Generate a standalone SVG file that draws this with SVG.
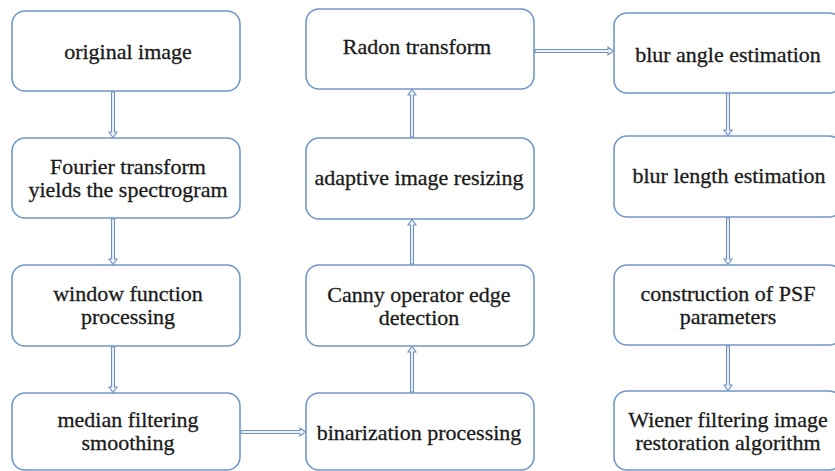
<svg xmlns="http://www.w3.org/2000/svg" width="835" height="471" viewBox="0 0 835 471">
<style>
.box{fill:#fff;stroke:#7397c6;stroke-width:1.6}
.t{font-family:"Liberation Serif","Times New Roman",serif;font-size:22px;fill:#1a1a1a;stroke:#1a1a1a;stroke-width:0.3;text-anchor:middle}
.arr{fill:#eef2f9;stroke:#6f92c2;stroke-width:1.1;stroke-linejoin:miter}
</style>
<rect width="835" height="471" fill="#fff"/>
<g id="n1"><rect class="box" x="12" y="11" width="228" height="80" rx="13"/><text class="t" x="128" y="59">original image</text></g>
<g id="n2"><rect class="box" x="12" y="138" width="228" height="80" rx="13"/><text class="t" x="128" y="174">Fourier transform</text><text class="t" x="128" y="197">yields the spectrogram</text></g>
<g id="n3"><rect class="box" x="12" y="265" width="228" height="81" rx="13"/><text class="t" x="128" y="301">window function</text><text class="t" x="128" y="324">processing</text></g>
<g id="n4"><rect class="box" x="12" y="393" width="228" height="77" rx="13"/><text class="t" x="128" y="427">median filtering</text><text class="t" x="128" y="450">smoothing</text></g>
<g id="n5"><rect class="box" x="306" y="393" width="228" height="77" rx="13"/><text class="t" x="419" y="440">binarization processing</text></g>
<g id="n6"><rect class="box" x="306" y="265" width="228" height="81" rx="13"/><text class="t" x="419" y="302">Canny operator edge</text><text class="t" x="419" y="325">detection</text></g>
<g id="n7"><rect class="box" x="306" y="138" width="228" height="81" rx="13"/><text class="t" x="419" y="185">adaptive image resizing</text></g>
<g id="n8"><rect class="box" x="306" y="9" width="228" height="80" rx="13"/><text class="t" x="417" y="54">Radon transform</text></g>
<g id="n9"><rect class="box" x="614" y="13" width="228" height="80" rx="13"/><text class="t" x="728" y="62">blur angle estimation</text></g>
<g id="n10"><rect class="box" x="614" y="136" width="228" height="81" rx="13"/><text class="t" x="729" y="183">blur length estimation</text></g>
<g id="n11"><rect class="box" x="614" y="265" width="228" height="80" rx="13"/><text class="t" x="728" y="301">construction of PSF</text><text class="t" x="728" y="324">parameters</text></g>
<g id="n12"><rect class="box" x="614" y="391" width="228" height="79" rx="13"/><text class="t" x="728" y="427">Wiener filtering image</text><text class="t" x="728" y="450">restoration algorithm</text></g>
<g id="connectors">
<path class="arr" d="M111.5,92 H114.5 V132 H117 L113,137.5 L109,132 H111.5 Z"/>
<path class="arr" d="M111.5,219 H114.5 V259 H117 L113,264.5 L109,259 H111.5 Z"/>
<path class="arr" d="M111.5,347 H114.5 V387 H117 L113,392.5 L109,387 H111.5 Z"/>
<path class="arr" d="M410.5,392 H413.5 V352 H416 L412,346.5 L408,352 H410.5 Z"/>
<path class="arr" d="M410.5,264 H413.5 V225 H416 L412,219.5 L408,225 H410.5 Z"/>
<path class="arr" d="M410.5,137 H413.5 V95 H416 L412,89.5 L408,95 H410.5 Z"/>
<path class="arr" d="M726.5,94 H729.5 V130 H732 L728,135.5 L724,130 H726.5 Z"/>
<path class="arr" d="M726.5,218 H729.5 V259 H732 L728,264.5 L724,259 H726.5 Z"/>
<path class="arr" d="M726.5,346 H729.5 V385 H732 L728,390.5 L724,385 H726.5 Z"/>
<path class="arr" d="M535,49.5 V52.5 H608 V55 L613.5,51 L608,47 V49.5 Z"/>
<path class="arr" d="M241,430.5 V433.5 H300 V436 L305.5,432 L300,428 V430.5 Z"/>
</g>
</svg>
